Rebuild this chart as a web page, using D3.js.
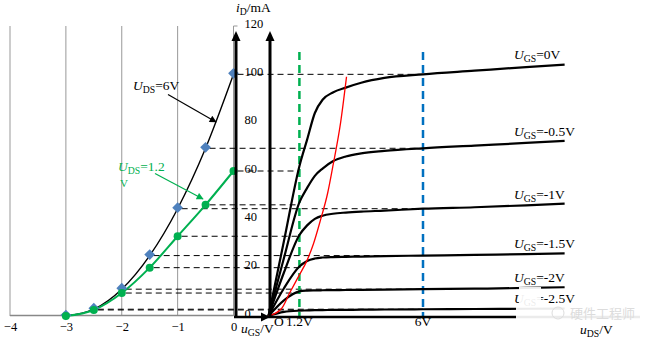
<!DOCTYPE html>
<html>
<head>
<meta charset="utf-8">
<script src="https://cdn.jsdelivr.net/npm/d3@7"></script>
<style>
  html, body { margin: 0; padding: 0; background: #fff; }
  svg { display: block; font-family: "Liberation Serif", "Times New Roman", serif; }
</style>
</head>
<body>
<svg id="chart" width="658" height="342"></svg>
<script>
// ---- transfer characteristic (left panel) ----
const uGS = [-3, -2.5, -2, -1.5, -1, -0.5, 0];
const iD_UDS6 = [0, 2.8, 11.1, 25, 44.4, 69.4, 100];   // UDS = 6 V
const iD_UDS12 = [0, 2.5, 9.5, 20, 33, 46, 60];        // UDS = 1.2 V
const uGSTicks = [-4, -3, -2, -1, 0];
const iDTicks = [0, 20, 40, 60, 80, 100, 120];

// ---- output characteristics (right panel) ----
const uDS = [0, 0.6, 1.2, 1.5, 1.8, 2.1, 2.5, 3, 3.6, 4.5, 6, 8, 10, 11.5];
const iD_UGS0   = [0, 31, 62, 73, 84, 89.5, 92.5, 94.5, 96.5, 98.5, 100, 101.5, 103, 104];
const iD_UGSm05 = [0, 24, 47, 53, 58, 61, 64, 66, 67.3, 68.3, 69.4, 70.5, 71.6, 72.5];
const iD_UGSm1  = [0, 18, 33.5, 37.5, 40.2, 41.5, 42.3, 42.8, 43.2, 43.6, 44.4, 45, 45.8, 46.5];
const iD_UGSm15 = [0, 11.5, 20.5, 22.8, 23.8, 24.2, 24.4, 24.5, 24.6, 24.8, 25, 25.3, 25.6, 25.9];
const iD_UGSm2  = [0, 6.5, 10.2, 10.5, 10.6, 10.65, 10.7, 10.75, 10.8, 10.9, 11.1, 11.3, 11.6, 11.9];
const iD_UGSm25 = [0, 1.7, 2.2, 2.3, 2.4, 2.45, 2.5, 2.55, 2.6, 2.7, 2.8, 2.9, 3.0, 3.1];
const ugsLabels = ["0V", "-0.5V", "-1V", "-1.5V", "-2V", "-2.5V"];

// pre-pinch-off boundary (red)
const boundaryU = [0, 0.5, 0.82, 1.2, 1.47, 1.75, 2.0, 2.3, 2.5, 2.8, 3.03];
const boundaryI = [0, 3, 9.5, 17, 22.4, 30, 39, 51, 62, 80, 99];

// reference drain voltages
const uDSMarks = [1.2, 6];
const uDSMarkLabels = ["1.2V", "6V"];

const GREEN = "#00B050", BLUE = "#0070C0", DIAMOND = "#4F81BD";

const svg = d3.select("#chart");

const y = d3.scaleLinear().domain([0, 120]).range([316, 26]);
const xL = d3.scaleLinear().domain([-4, 0]).range([10, 233.5]);
const xR = d3.scaleLinear().domain([0, 6]).range([268.5, 423]);

// arrow markers
const defs = svg.append("defs");
function arrowMarker(id, color) {
  defs.append("marker").attr("id", id)
    .attr("viewBox", "0 0 10 10").attr("refX", 9).attr("refY", 5)
    .attr("markerWidth", 9).attr("markerHeight", 7).attr("markerUnits", "userSpaceOnUse")
    .attr("orient", "auto")
    .append("path").attr("d", "M0,0L10,5L0,10Z").attr("fill", color);
}
arrowMarker("arrBlack", "#000");
arrowMarker("arrGreen", GREEN);
defs.append("clipPath").attr("id", "clipV")
  .append("rect").attr("x", 100).attr("y", 179).attr("width", 40).attr("height", 20);

// ---- left panel grid ----
const grid = svg.append("g");
grid.selectAll("line.v").data(uGSTicks).join("line")
  .attr("x1", d => xL(d)).attr("x2", d => xL(d))
  .attr("y1", y(120)).attr("y2", y(0))
  .attr("stroke", "#999").attr("stroke-width", 1);
grid.append("line").attr("x1", xL(0)).attr("x2", xL(0) + 4)
  .attr("y1", y(120)).attr("y2", y(120)).attr("stroke", "#999");
grid.append("line").attr("x1", xL(-4)).attr("x2", xL(0))
  .attr("y1", y(0) - 0.5).attr("y2", y(0) - 0.5).attr("stroke", "#888").attr("stroke-width", 1.5);

// ---- dashed projection lines ----
const dashG = svg.append("g").attr("stroke", "#000").attr("stroke-width", 1)
  .attr("stroke-dasharray", "6,4").attr("fill", "none");
uGS.forEach((u, i) => {
  if (iD_UDS6[i] > 0) {
    dashG.append("line").attr("x1", xL(u) + 4).attr("x2", xR(6))
      .attr("y1", y(iD_UDS6[i])).attr("y2", y(iD_UDS6[i]));
  }
  if (iD_UDS12[i] > 0) {
    dashG.append("line").attr("x1", xL(u) + 4).attr("x2", xR(1.2))
      .attr("y1", y(iD_UDS12[i])).attr("y2", y(iD_UDS12[i]));
  }
});

// ---- vertical reference lines at uDS = 1.2 V and 6 V ----
svg.selectAll("line.ref").data(uDSMarks).join("line")
  .attr("x1", d => xR(d)).attr("x2", d => xR(d))
  .attr("y1", 52).attr("y2", y(0))
  .attr("stroke", (d, i) => i === 0 ? GREEN : BLUE)
  .attr("stroke-width", 2.5).attr("stroke-dasharray", "8,5");

// ---- output curves ----
const outCurves = [iD_UGS0, iD_UGSm05, iD_UGSm1, iD_UGSm15, iD_UGSm2, iD_UGSm25];
const outLine = d3.line().x(d => xR(d[0])).y(d => y(d[1])).curve(d3.curveMonotoneX);
svg.append("g").selectAll("path").data(outCurves).join("path")
  .attr("d", ids => outLine(uDS.map((u, i) => [u, ids[i]])))
  .attr("fill", "none").attr("stroke", "#000").attr("stroke-width", 2.2);

// red boundary
svg.append("path")
  .attr("d", outLine(boundaryU.map((u, i) => [u, boundaryI[i]])))
  .attr("fill", "none").attr("stroke", "#FF0000").attr("stroke-width", 1.3);

// ---- transfer curves ----
const trLine = d3.line().x(d => xL(d[0])).y(d => y(d[1])).curve(d3.curveMonotoneX);
svg.append("path").attr("d", trLine(uGS.map((u, i) => [u, iD_UDS6[i]])))
  .attr("fill", "none").attr("stroke", "#000").attr("stroke-width", 1.4);
svg.append("path").attr("d", trLine(uGS.map((u, i) => [u, iD_UDS12[i]])))
  .attr("fill", "none").attr("stroke", GREEN).attr("stroke-width", 2);

svg.append("g").selectAll("rect").data(uGS.map((u, i) => [u, iD_UDS6[i]])).join("rect")
  .attr("x", -3.8).attr("y", -3.8).attr("width", 7.6).attr("height", 7.6)
  .attr("transform", d => `translate(${xL(d[0])},${y(d[1]) - 1}) rotate(45)`)
  .attr("fill", DIAMOND);
svg.append("g").selectAll("circle").data(uGS.map((u, i) => [u, iD_UDS12[i]])).join("circle")
  .attr("cx", d => xL(d[0])).attr("cy", d => y(d[1])).attr("r", 4)
  .attr("fill", GREEN);

// ---- axes ----
const axG = svg.append("g").attr("stroke", "#000").attr("stroke-width", 3);
axG.append("line").attr("x1", 236).attr("x2", 236).attr("y1", y(0) + 1).attr("y2", 40);
axG.append("line").attr("x1", xR(0) + 1.5).attr("x2", xR(0) + 1.5).attr("y1", y(0) + 1).attr("y2", 40);
axG.append("line").attr("x1", 234).attr("x2", 640).attr("y1", y(0) + 1).attr("y2", y(0) + 1).attr("stroke-width", 2.5);
svg.append("path").attr("d", "M231.5,41L236,31L240.5,41Z").attr("fill", "#000");
svg.append("path").attr("d", `M${xR(0) - 3},41L${xR(0) + 1.5},31L${xR(0) + 6},41Z`).attr("fill", "#000");
svg.append("path").attr("d", `M261,312.5L270,317L261,321.5Z`).attr("fill", "#000");

// tick labels
const xAxis = svg.append("g").attr("transform", `translate(0,${y(0)})`)
  .call(d3.axisBottom(xL).tickValues(uGSTicks).tickSize(0).tickPadding(6).tickFormat(d3.format("d")));
xAxis.attr("font-family", null);
xAxis.select(".domain").remove();
xAxis.selectAll("text").attr("font-size", 12.5).attr("font-family", "Liberation Serif").attr("fill", "#000");

const yAxis = svg.append("g").attr("transform", "translate(244.5,0)")
  .call(d3.axisRight(y).tickValues(iDTicks).tickSize(0).tickPadding(0));
yAxis.attr("font-family", null);
yAxis.select(".domain").remove();
yAxis.selectAll("text").attr("font-size", 12.5).attr("font-family", "Liberation Serif").attr("fill", "#000")
  .attr("dy", "0.1em");

// ---- text labels with subscripts ----
function label(x, yb, main, sub, rest, opts = {}) {
  const size = opts.size || 13.5;
  const t = svg.append("text").attr("x", x).attr("y", yb)
    .attr("font-size", size).attr("fill", opts.color || "#000");
  t.append("tspan").attr("font-style", "italic").text(main);
  t.append("tspan").attr("font-size", size * 0.72).attr("dy", 3).text(sub);
  t.append("tspan").attr("dy", -3).text(rest);
  return t;
}

label(236, 12, "i", "D", "/mA");
label(241, 333, "u", "GS", "/V");
label(580, 334, "u", "DS", "/V");
svg.append("text").attr("x", 274).attr("y", 326).attr("font-size", 13.5).text("O");
svg.selectAll("text.um").data(uDSMarks).join("text")
  .attr("x", d => xR(d)).attr("y", 326).attr("text-anchor", "middle")
  .attr("font-size", 13.5).text((d, i) => uDSMarkLabels[i]);

// curve names placed at the right end of each curve
const labelBase = [59, 135.5, 199, 248, 282, 303];
ugsLabels.forEach((s, i) => label(514, labelBase[i], "U", "GS", "=" + s));

// UDS callouts
label(133, 89.5, "U", "DS", "=6V");
svg.append("line").attr("x1", 168).attr("y1", 94.5).attr("x2", 216).attr("y2", 122)
  .attr("stroke", "#000").attr("stroke-width", 1.2).attr("marker-end", "url(#arrBlack)");
label(118, 170.5, "U", "DS", "=1.2", { color: GREEN });
svg.append("text").attr("x", 120).attr("y", 187).attr("font-size", 11).attr("fill", GREEN)
  .attr("clip-path", "url(#clipV)").text("V");
svg.append("line").attr("x1", 155).attr("y1", 173.5).attr("x2", 203).attr("y2", 199)
  .attr("stroke", GREEN).attr("stroke-width", 1.2).attr("marker-end", "url(#arrGreen)");

// faint watermark over the lower right corner
const wm = svg.append("g");
wm.append("rect").attr("x", 519).attr("y", 287).attr("width", 22).attr("height", 16).attr("fill", "#fff").attr("opacity", 0.92);
wm.append("rect").attr("x", 516).attr("y", 303).attr("width", 126).attr("height", 19).attr("fill", "#fff").attr("opacity", 0.92);
wm.append("circle").attr("cx", 558).attr("cy", 313).attr("r", 6).attr("fill", "none").attr("stroke", "#ddd");
wm.append("text").attr("x", 570).attr("y", 318).attr("font-size", 13)
  .attr("font-family", "Noto Sans CJK SC").attr("fill", "#dcdcdc").text("硬件工程师");
</script>
</body>
</html>
